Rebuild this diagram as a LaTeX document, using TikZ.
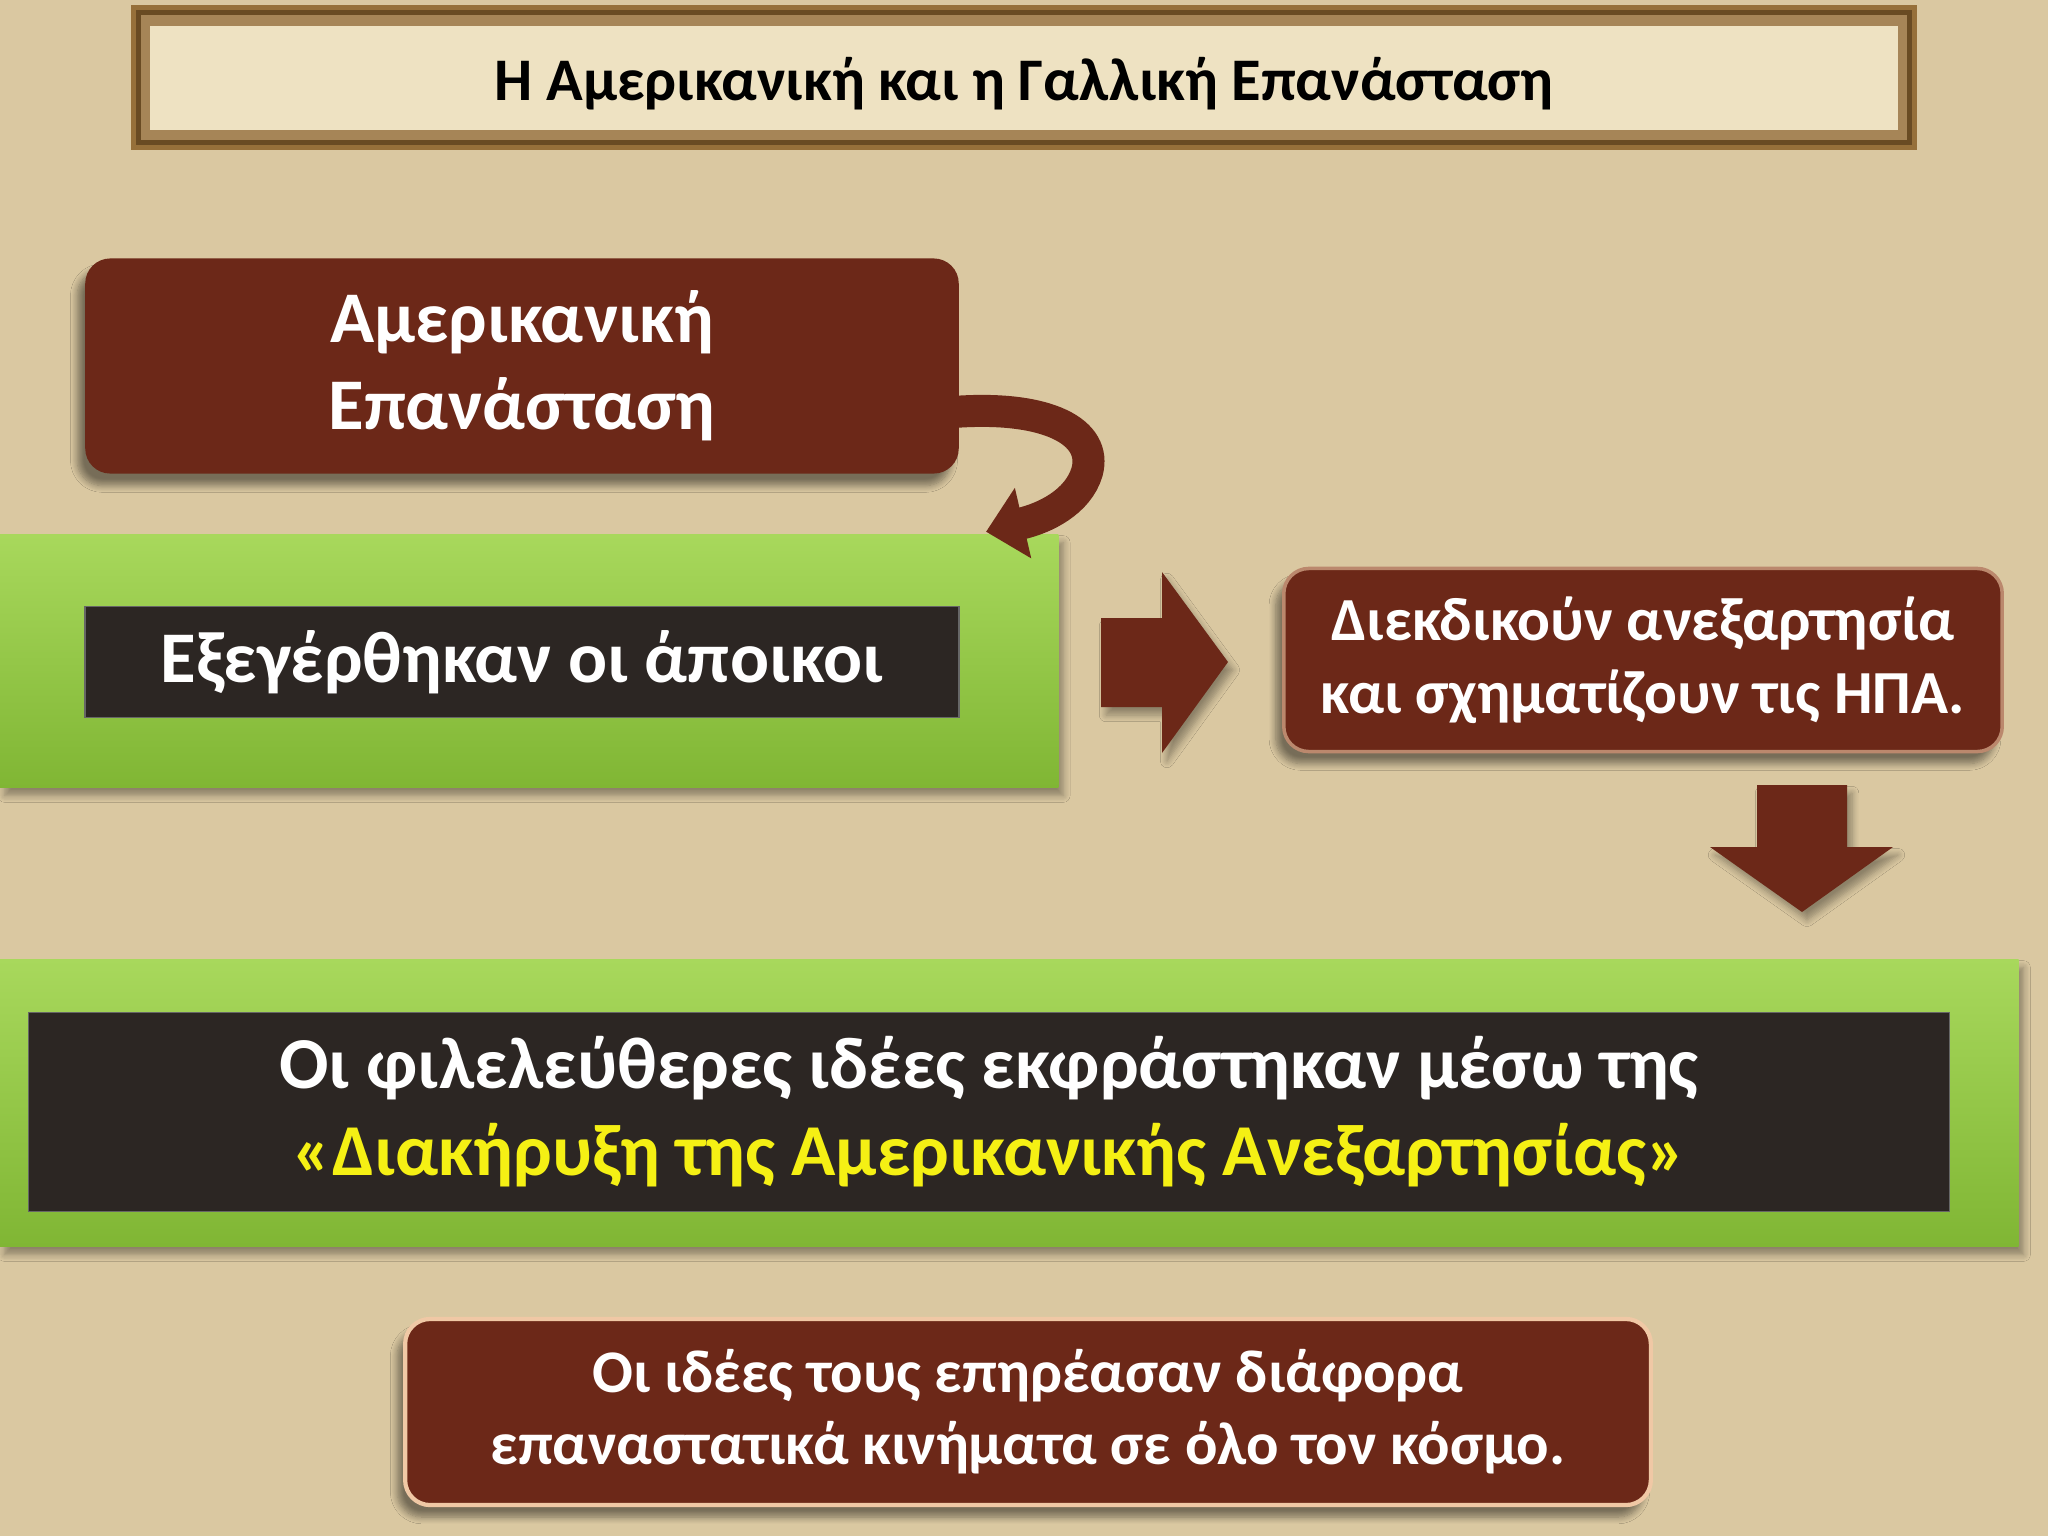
\documentclass[tikz,border=0pt]{standalone}
\usepackage{fontspec}
\setmainfont{Carlito}
\usetikzlibrary{calc,shadows.blur,arrows.meta}
\definecolor{parch}{RGB}{218,200,161}
\definecolor{parchin}{RGB}{238,226,194}
\definecolor{framec}{RGB}{150,112,58}
\definecolor{framedk}{RGB}{105,75,35}
\definecolor{brownbox}{RGB}{108,40,24}
\definecolor{greentop}{RGB}{168,216,92}
\definecolor{greenbot}{RGB}{128,182,52}
\definecolor{darkband}{RGB}{44,38,35}
\definecolor{yel}{RGB}{245,240,20}
\definecolor{rim}{RGB}{240,200,165}
\tikzset{
  brownnode/.style={fill=brownbox, rounded corners=0.25cm, text=white, font=\bfseries, align=center, inner sep=0pt,
     blur shadow={shadow xshift=-0.08cm, shadow yshift=-0.12cm, shadow blur steps=8, shadow opacity=45}},
  greennode/.style={top color=greentop, bottom color=greenbot, inner sep=0pt,
     blur shadow={shadow xshift=0.05cm, shadow yshift=-0.08cm, shadow blur steps=6, shadow opacity=35}},
  bandnode/.style={fill=darkband, draw=black!60, line width=0.5pt, text=white, font=\bfseries, align=center, inner sep=0pt},
  blockarrow/.style={fill=brownbox,
     blur shadow={shadow xshift=0.05cm, shadow yshift=-0.08cm, shadow blur steps=6, shadow opacity=35}},
  curvearrow/.style={draw=brownbox, line width=0.32cm, -{Triangle[width=0.7cm,length=0.38cm]}},
}
\begin{document}
\begin{tikzpicture}[x=0.01cm,y=-0.01cm]
\useasboundingbox (0,0) rectangle (2048,1536);
\fill[parch] (0,0) rectangle (2048,1536);
% title frame
\fill[framec] (131,5) rectangle (1917,150);
\fill[framedk] (136,10) rectangle (1912,145);
\fill[framec!85!white] (141,15) rectangle (1907,140);
\fill[parchin] (150,26) rectangle (1898,130);
\node[font=\bfseries\fontsize{17.2pt}{20pt}\selectfont, text=black] (title) at (1024,84) {Η Αμερικανική και η Γαλλική Επανάσταση};
% boxes
\node[brownnode, minimum width=8.73cm, minimum height=2.15cm, font=\bfseries\fontsize{20.7pt}{24.8pt}\selectfont] (amer) at (522,366) {Αμερικανική\\Επανάσταση};
\node[greennode, minimum width=10.58cm, minimum height=2.53cm] (green1) at (529,661) {};
\node[bandnode, minimum width=8.73cm, minimum height=1.11cm, font=\bfseries\fontsize{20.7pt}{24pt}\selectfont] (band1) at (522,662) {Εξεγέρθηκαν οι άποικοι};
\node[brownnode, draw=rim!60!brownbox, line width=1pt, minimum width=7.18cm, minimum height=1.83cm, font=\bfseries\fontsize{17.4pt}{20.8pt}\selectfont] (usa) at (1643,660) {Διεκδικούν ανεξαρτησία\\και σχηματίζουν τις ΗΠΑ.};
\node[greennode, minimum width=20.18cm, minimum height=2.87cm] (green2) at (1009,1103) {};
\node[bandnode, minimum width=19.2cm, minimum height=1.99cm, font=\bfseries\fontsize{20.8pt}{24.8pt}\selectfont] (band2) at (989,1112) {Οι φιλελεύθερες ιδέες εκφράστηκαν μέσω της\\\textcolor{yel}{«Διακήρυξη της Αμερικανικής Ανεξαρτησίας»}};
\node[brownnode, draw=rim, line width=1.2pt, minimum width=12.45cm, minimum height=1.86cm, font=\bfseries\fontsize{17.2pt}{20.5pt}\selectfont] (world) at (1028,1412) {Οι ιδέες τους επηρέασαν διάφορα\\επαναστατικά κινήματα σε όλο τον κόσμο.};
% curved arrow from amer to green1
\coordinate (cs) at ($(amer.east)+(-6,46)$);
\coordinate (ce) at ($(green1.north east)+(-73,-2)$);
\draw[curvearrow] (cs) .. controls (1048,405) and (1098,432) .. (1087,472) .. controls (1078,502) and (1045,518) .. (ce);
% block arrow right (green1 -> usa)
\path[blockarrow] (1101,618) -- (1162,618) -- (1162,572) -- (1228,662) -- (1162,753) -- (1162,707) -- (1101,707) -- cycle;
% block arrow down (usa -> green2)
\path[blockarrow] (1757,785) -- (1847,785) -- (1847,847) -- (1893,847) -- (1802,912) -- (1710,847) -- (1757,847) -- cycle;
\end{tikzpicture}
\end{document}
